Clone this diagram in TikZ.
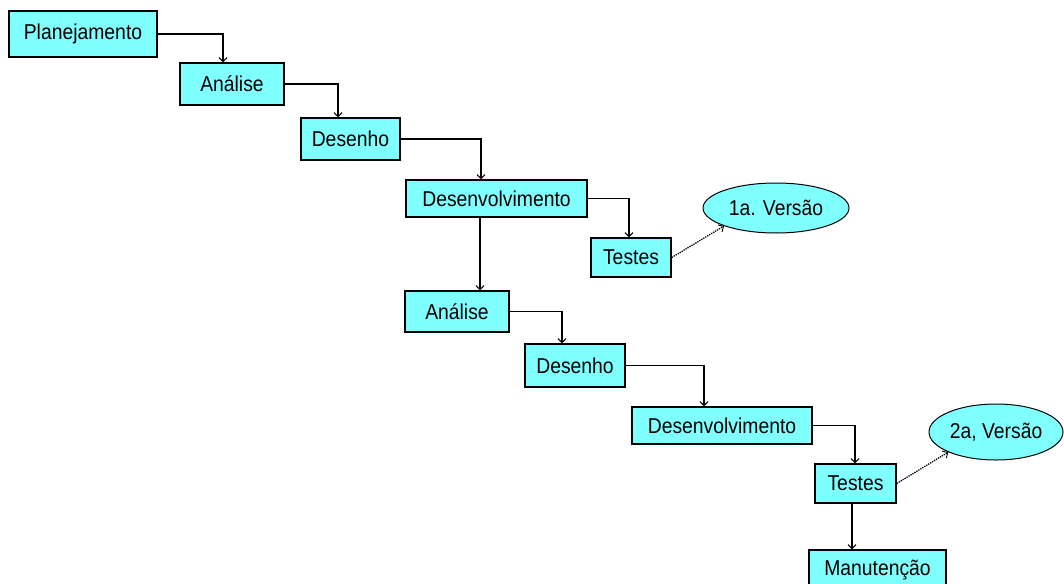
\documentclass[tikz,border=0pt]{standalone}
\usepackage{fontspec}
\setmainfont{Liberation Sans}
\newfontfamily\uifont[FakeStretch=0.9]{Liberation Sans}
\usetikzlibrary{arrows.meta,shapes.geometric}
\definecolor{boxfill}{RGB}{128,255,255}
\begin{document}
\begin{tikzpicture}[x=1pt,y=-1pt,
  stage/.style={draw=black,line width=1.4pt,fill=boxfill,inner sep=0pt,
    font=\uifont\fontsize{21.5}{24}\selectfont},
  release/.style={ellipse,draw=black,line width=1pt,fill=boxfill,inner sep=0pt,
    font=\uifont\fontsize{21.5}{24}\selectfont},
  flow/.style={draw=black,line width=1.2pt,-{Straight Barb[length=4pt,width=8pt,line width=1pt]}},
  link/.style={draw=black,line width=1.3pt,densely dotted,-{Straight Barb[length=4pt,width=8pt,line width=0.9pt]}}]
\useasboundingbox (0,0) rectangle (1064,583);

% first cycle
\node[stage,minimum width=148pt,minimum height=46pt] (plan) at (83,34) {Planejamento};
\node[stage,minimum width=104pt,minimum height=42pt] (an1) at (232,84) {Análise};
\node[stage,minimum width=99pt,minimum height=42pt] (des1) at (350.5,139) {Desenho};
\node[stage,minimum width=181pt,minimum height=37pt] (dev1) at (496.5,198.5) {Desenvolvimento};
\node[stage,minimum width=80pt,minimum height=39pt] (test1) at (631,257.5) {Testes};
\node[release,minimum width=146pt,minimum height=50pt] (v1) at (776,208) {1a. Versão};

% second cycle
\node[stage,minimum width=104pt,minimum height=41pt] (an2) at (457,311.5) {Análise};
\node[stage,minimum width=100pt,minimum height=43pt] (des2) at (575,365.5) {Desenho};
\node[stage,minimum width=180pt,minimum height=37pt] (dev2) at (722,425.5) {Desenvolvimento};
\node[stage,minimum width=81pt,minimum height=39pt] (test2) at (855.5,483.5) {Testes};
\node[release,minimum width=134pt,minimum height=56pt] (v2) at (996,432) {2a, Versão};
\node[stage,minimum width=137pt,minimum height=41pt] (mnt) at (877.5,570.5) {Manutenção};

% step-down connectors
\draw[flow] (plan.east) -| ([xshift=-9pt]an1.north);
\draw[flow] (an1.east) -| ([xshift=-12.5pt]des1.north);
\draw[flow] (des1.east) -| ([xshift=-15.5pt]dev1.north);
\draw[flow] (dev1.east) -| ([xshift=-2pt]test1.north);
\draw[flow] ([xshift=-16.5pt]dev1.south) -- ([xshift=-16.5pt]dev1.south |- an2.north);
\draw[flow] (an2.east) -| ([xshift=-13pt]des2.north);
\draw[flow] (des2.east) -| ([xshift=-18pt]dev2.north);
\draw[flow] (dev2.east) -| ([xshift=-0.5pt]test2.north);
\draw[flow] ([xshift=-3.5pt]test2.south) -- ([xshift=-3.5pt]test2.south |- mnt.north);

% releases
\draw[link] (test1.east) -- (v1.south west);
\draw[link] (test2.east) -- (v2.south west);
\end{tikzpicture}
\end{document}
